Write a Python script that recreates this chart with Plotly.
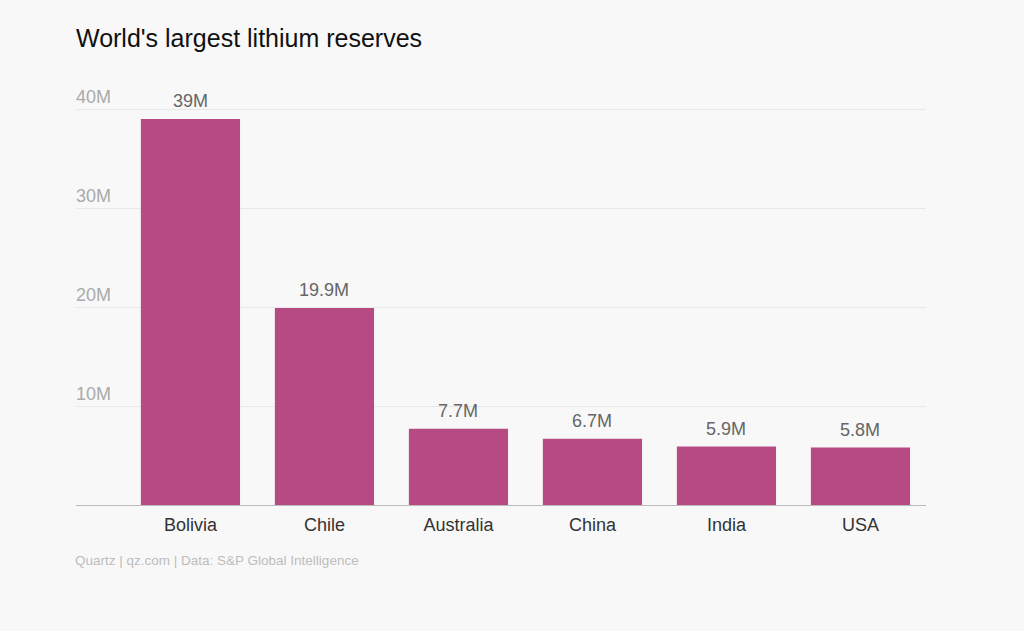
import plotly.graph_objects as go

countries = ['Bolivia', 'Chile', 'Australia', 'China', 'India', 'USA']
reserves = [39.0e6, 19.9e6, 7.7e6, 6.7e6, 5.9e6, 5.8e6]
value_labels = ['39M', '19.9M', '7.7M', '6.7M', '5.9M', '5.8M']
tick_vals = [10e6, 20e6, 30e6, 40e6]
tick_text = ['10M', '20M', '30M', '40M']

font_family = "Liberation Sans, Arial, sans-serif"

fig = go.Figure()
fig.add_trace(go.Bar(
    x=list(range(len(countries))),
    y=reserves,
    width=0.74,
    marker=dict(color='#b64a83', line=dict(width=0)),
    hoverinfo='skip'
))

# value labels sit a little higher than plotly's 'outside' text
labels = [dict(x=i, y=v, text=t, xref='x', yref='y', yshift=18,
               xanchor='center', yanchor='middle', showarrow=False,
               font=dict(family=font_family, size=18, color='#666666'))
          for i, (v, t) in enumerate(zip(reserves, value_labels))]

labels.append(dict(
    text='Quartz | qz.com | Data: S&P Global Intelligence',
    xref='paper', yref='paper', x=0, y=-55 / 435, xshift=-3,
    xanchor='left', yanchor='middle', showarrow=False,
    font=dict(family=font_family, size=13.5, color='#bdbdbd')
))

fig.update_layout(
    width=1024,
    height=631,
    paper_bgcolor='#f8f8f8',
    plot_bgcolor='#f8f8f8',
    margin=dict(l=76, r=98, t=70, b=126),
    showlegend=False,
    font=dict(family=font_family),
    title=dict(
        text="World's largest lithium reserves",
        font=dict(family=font_family, size=25, color='#111111'),
        xref='paper', x=0, xanchor='left',
        yref='container', y=1 - 38 / 631, yanchor='middle'
    ),
    xaxis=dict(
        range=[-0.854, 5.489],
        tickvals=list(range(len(countries))),
        ticktext=countries,
        tickfont=dict(family=font_family, size=18, color='#333333'),
        ticklabelstandoff=3,
        showgrid=False,
        showline=True,
        linecolor='#bbbbbb',
        linewidth=1,
        ticks='',
        zeroline=False
    ),
    yaxis=dict(
        range=[0, 43.94e6],
        tickvals=tick_vals,
        ticktext=tick_text,
        ticklabelposition='inside top',
        ticklabelstandoff=-3,
        tickfont=dict(family=font_family, size=18, color='#aaaaaa'),
        showgrid=True,
        gridcolor='#e8e8e8',
        gridwidth=1,
        zeroline=False,
        showline=False,
        ticks=''
    ),
    annotations=labels
)

# drop the default page margin so the figure sits at the window corner
fig.write_html("out.html",
               config={'displayModeBar': False},
               post_script="document.body.style.margin='0';")
